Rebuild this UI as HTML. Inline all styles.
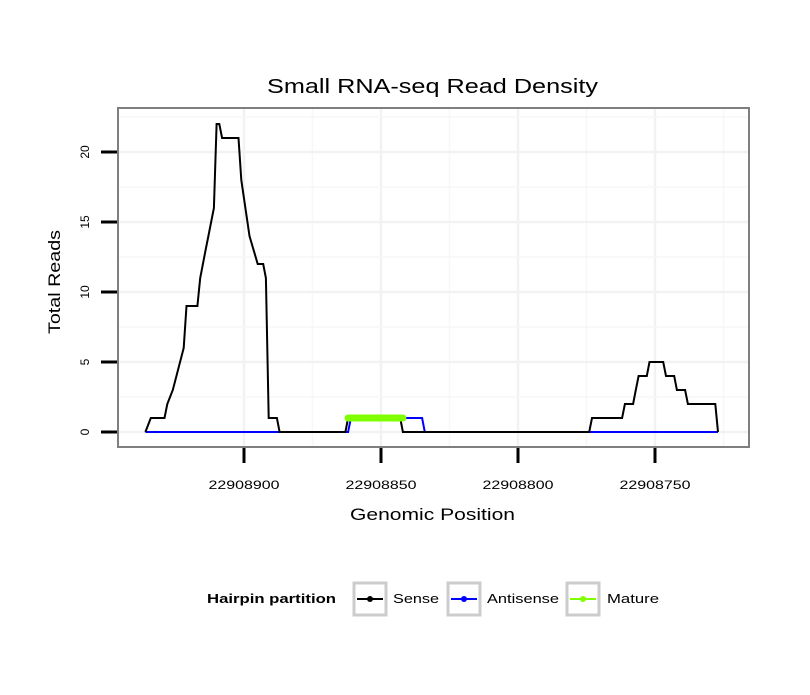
<!DOCTYPE html>
<html><head><meta charset="utf-8"><style>
body{margin:0;background:#fff;font-family:"Liberation Sans",sans-serif}
</style></head><body>
<svg id="chart" width="810" height="690" xmlns="http://www.w3.org/2000/svg" font-family="Liberation Sans, sans-serif">
<text x="267" y="93" font-size="20" textLength="331" lengthAdjust="spacingAndGlyphs">Small RNA-seq Read Density</text>
<g id="grid"></g>
<g id="series"></g>
<rect x="118" y="108" width="631" height="339" fill="none" stroke="#7f7f7f" stroke-width="2"/>
<g id="axes"></g>
<text x="350" y="520" font-size="17" textLength="165" lengthAdjust="spacingAndGlyphs">Genomic Position</text>
<text transform="translate(60,334) rotate(-90)" font-size="17" textLength="104" lengthAdjust="spacingAndGlyphs">Total Reads</text>
<g>
<text x="207" y="603" font-size="13" font-weight="bold" textLength="129" lengthAdjust="spacingAndGlyphs">Hairpin partition</text>
<g>
<rect x="354" y="583" width="32" height="32" fill="#fff" stroke="#ccc" stroke-width="3"/>
<line x1="357" y1="599" x2="383" y2="599" stroke="#000" stroke-width="2"/><circle cx="370" cy="599" r="3" fill="#000"/>
<text x="393" y="603" font-size="13" textLength="46" lengthAdjust="spacingAndGlyphs">Sense</text></g>
<g>
<rect x="448" y="583" width="32" height="32" fill="#fff" stroke="#ccc" stroke-width="3"/>
<line x1="451" y1="599" x2="477" y2="599" stroke="#0000ff" stroke-width="2"/><circle cx="464" cy="599" r="3" fill="#0000ff"/>
<text x="487" y="603" font-size="13" textLength="72" lengthAdjust="spacingAndGlyphs">Antisense</text></g>
<g>
<rect x="567" y="583" width="32" height="32" fill="#fff" stroke="#ccc" stroke-width="3"/>
<line x1="570" y1="599" x2="596" y2="599" stroke="#7fff00" stroke-width="2"/><circle cx="583" cy="599" r="3" fill="#7fff00"/>
<text x="607" y="603" font-size="13" textLength="52" lengthAdjust="spacingAndGlyphs">Mature</text></g>
</g>
</svg>
<script>
const xTicks=[22908900,22908850,22908800,22908750];
const xTickLabels=["22908900","22908850","22908800","22908750"];
const yTicks=[0,5,10,15,20];
const yTickLabels=["0","5","10","15","20"];
const sensePos=[22908936,22908934,22908929,22908928,22908926,22908922,22908921,22908917,22908916,22908914,22908913,22908911,22908910,22908909,22908908,22908902,22908901,22908898,22908895,22908893,22908892,22908891,22908888,22908887,22908863,22908862,22908843,22908842,22908774,22908773,22908762,22908761,22908758,22908757,22908756,22908753,22908752,22908747,22908746,22908743,22908742,22908739,22908738,22908728,22908727];
const senseVal=[0,1,1,2,3,6,9,9,11,13,14,16,22,22,21,21,18,14,12,12,11,1,1,0,0,1,1,0,0,1,1,2,2,3,4,4,5,5,4,4,3,3,2,2,0];
const antiPos=[22908936,22908862,22908861,22908835,22908834,22908727];
const antiVal=[0,0,1,1,0,0];
const maturePos=[22908862,22908842];
const matureVal=[1,1];
const NS="http://www.w3.org/2000/svg";
function X(p){return 244+(22908900-p)*2.74;}
function Y(v){return 432-v*14;}
function mk(t,a,parent){const e=document.createElementNS(NS,t);for(const k in a)e.setAttribute(k,a[k]);parent.appendChild(e);return e;}
const grid=document.getElementById('grid'),axes=document.getElementById('axes'),series=document.getElementById('series');
mk('rect',{x:118,y:108,width:631,height:339,fill:'#fff'},grid);
for(let i=0;i<xTicks.length;i++){const x=X(xTicks[i]);
 const g=mk('line',{x1:x,x2:x,y1:108,y2:447,stroke:'#f2f2f2','stroke-width':2.5},grid);
 
 const m=mk('line',{x1:X(xTicks[i]-25),x2:X(xTicks[i]-25),y1:108,y2:447,stroke:'#f7f7f7','stroke-width':1.5},grid);
 
 const t=mk('line',{x1:x,x2:x,y1:448,y2:463,stroke:'#000','stroke-width':3},axes);
 
 const l=mk('text',{x:x-35.5,y:489,'font-size':12,textLength:71,lengthAdjust:'spacingAndGlyphs'},axes);l.textContent=xTickLabels[i];
 }
for(let i=0;i<yTicks.length;i++){const y=Y(yTicks[i]);
 const g=mk('line',{x1:118,x2:749,y1:y,y2:y,stroke:'#f2f2f2','stroke-width':2.5},grid);
 
 const m=mk('line',{x1:118,x2:749,y1:Y(yTicks[i]+2.5),y2:Y(yTicks[i]+2.5),stroke:'#f7f7f7','stroke-width':1.5},grid);
 
 const t=mk('line',{x1:101,x2:117,y1:y,y2:y,stroke:'#000','stroke-width':3},axes);
 
 const l=mk('text',{transform:`translate(89,${y}) rotate(-90)`,'font-size':12,'text-anchor':'middle'},axes);l.textContent=yTickLabels[i];
 }
function pts(P,V){return P.map((p,i)=>X(p).toFixed(1)+','+Y(V[i]).toFixed(1)).join(' ');}
const a=mk('polyline',{points:pts(antiPos,antiVal),fill:'none',stroke:'#0000ff','stroke-width':2},series);

const s=mk('polyline',{points:pts(sensePos,senseVal),fill:'none',stroke:'#000','stroke-width':2},series);

const m=mk('polyline',{points:pts(maturePos,matureVal),fill:'none',stroke:'#7fff00','stroke-width':7,'stroke-linecap':'round'},series);

</script>
</body></html>
